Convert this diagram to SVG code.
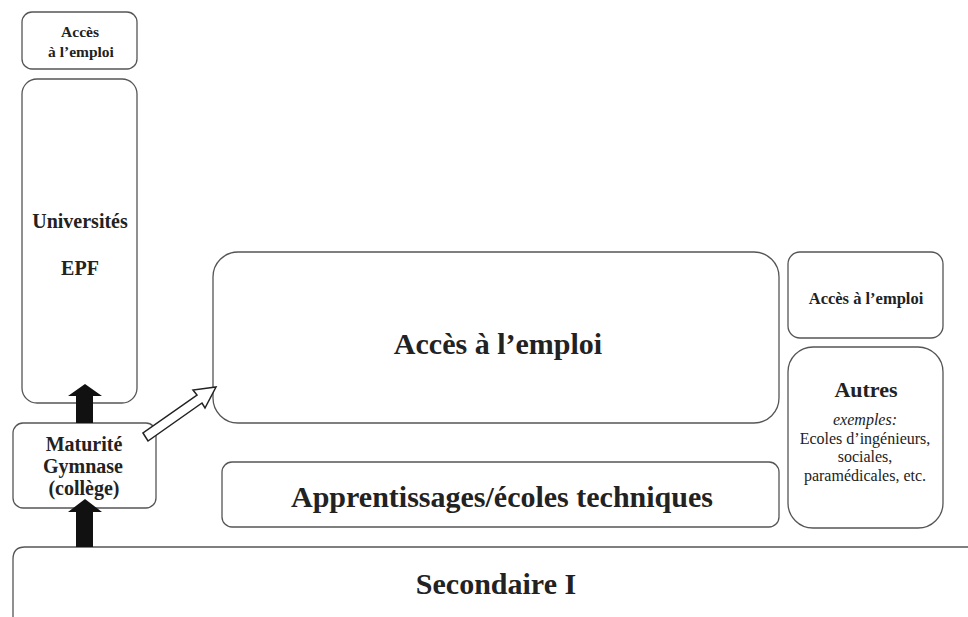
<svg xmlns="http://www.w3.org/2000/svg" width="968" height="617" viewBox="0 0 968 617">
<style>
.box{fill:#fff;stroke:#555;stroke-width:1.3}
text{font-family:"Liberation Serif","Times New Roman",serif;fill:#222;text-anchor:middle}
.b{font-weight:bold}
.s{font-size:16px}
</style>
<rect width="968" height="617" fill="#fff"/>
<g id="acces-top"><rect class="box" x="22" y="12" width="115" height="57" rx="10"/>
<text class="b" x="80" y="37" font-size="15.5">Accès</text><text class="b" x="81" y="57" font-size="15.5">à l’emploi</text></g>
<g id="universites"><rect class="box" x="22" y="79" width="115" height="324" rx="15"/>
<text class="b" x="80" y="228" font-size="20">Universités</text><text class="b" x="80" y="275" font-size="20">EPF</text></g>
<g id="maturite"><rect class="box" x="13" y="423" width="143" height="85" rx="10"/>
<text class="b" x="84" y="451" font-size="20">Maturité</text><text class="b" x="83" y="473" font-size="20">Gymnase</text><text class="b" x="84" y="495" font-size="20">(collège)</text></g>
<g id="secondaire"><path class="box" d="M13 627 V559 Q13 547 25 547 H975"/>
<text class="b" x="496" y="594" font-size="30">Secondaire I</text></g>
<g id="acces-main"><rect class="box" x="213" y="252" width="566" height="171" rx="25"/>
<text class="b" x="498" y="354" font-size="30">Accès à l’emploi</text></g>
<g id="apprentissages"><rect class="box" x="222" y="462" width="557" height="65" rx="10"/>
<text class="b" x="502" y="507" font-size="30">Apprentissages/écoles techniques</text></g>
<g id="acces-right"><rect class="box" x="788" y="252" width="155" height="86" rx="12"/>
<text class="b" x="866" y="304" font-size="16.5">Accès à l’emploi</text></g>
<g id="autres"><rect class="box" x="788" y="347" width="155" height="181" rx="25"/>
<text class="b" x="866" y="397" font-size="22">Autres</text>
<text class="s" x="865" y="425" font-style="italic">exemples:</text>
<text class="s" x="865" y="443.5">Ecoles d’ingénieurs,</text>
<text class="s" x="865" y="462">sociales,</text>
<text class="s" x="865" y="480.5">paramédicales, etc.</text></g>
<g id="connectors">
<polygon fill="#111" points="76,423 76,396 68,396 85,384 102,396 93,396 93,423"/>
<polygon fill="#111" points="76,547 76,512 68,512 85,499 102,512 93,512 93,547"/>
<polygon fill="#fff" stroke="#222" stroke-width="1.5" points="143,433 148,441 202,403 205,408 216,387 193,390 197,395"/>
</g>
</svg>
